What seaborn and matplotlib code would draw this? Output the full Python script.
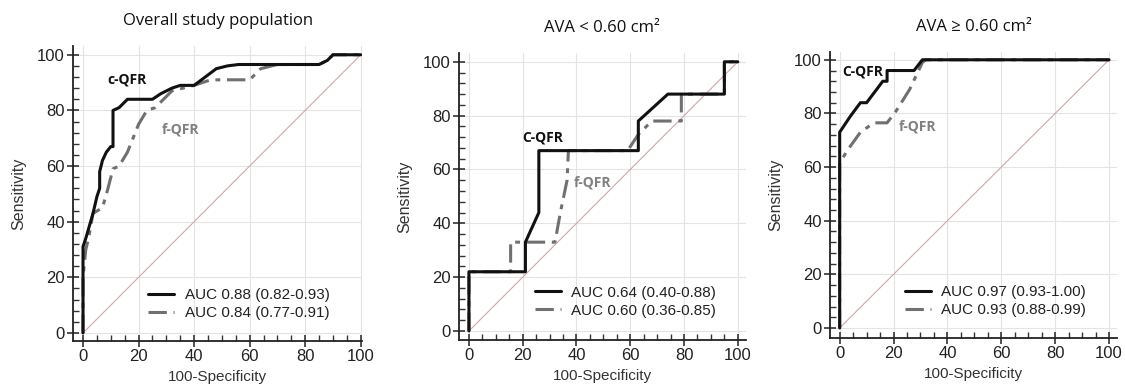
import numpy as np
import pandas as pd
import seaborn as sns
import matplotlib.pyplot as plt
from matplotlib.ticker import MultipleLocator
from matplotlib.lines import Line2D

# ---- data ----
titles = ["Overall study population", "AVA < 0.60 cm\u00b2", "AVA \u2265 0.60 cm\u00b2"]

p1_c_x = [0, 0, 1, 3.6, 5, 6, 6, 7, 8.4, 10, 10.8, 10.8, 13, 16, 25, 28, 32, 35, 40, 44, 48, 52, 56, 85, 88, 90, 100]
p1_c_y = [0, 31, 34, 43, 49, 52, 58, 62, 65, 67, 67, 80, 81, 84, 84, 86, 88, 89, 89, 92, 95, 96, 96.5, 96.5, 98, 100, 100]
p1_f_x = [0, 0, 0.5, 1, 2, 3.6, 7, 9, 10.8, 13, 16, 20, 23, 26, 29, 32, 40, 46, 60, 64, 70, 85, 88, 90, 100]
p1_f_y = [0, 20, 25, 30, 34, 43, 45, 52, 59, 60, 65, 75, 80, 81, 84, 87, 89, 91, 91, 95, 96.5, 96.5, 98, 100, 100]

p2_c_x = [0, 0, 21, 21, 26, 26, 63, 63, 74, 95, 95, 100]
p2_c_y = [0, 22, 22, 33, 44, 67, 67, 78, 88, 88, 100, 100]
p2_f_x = [0, 0, 15.5, 15.5, 32, 34, 36.5, 37, 59, 63, 68, 79, 79, 95, 95, 100]
p2_f_y = [0, 22, 22, 33, 33, 44, 56, 67, 67, 73, 78, 78, 88, 88, 100, 100]

p3_c_x = [0, 0, 4, 7.7, 10, 16, 17.6, 17.6, 27.6, 30.7, 100]
p3_c_y = [0, 73, 79, 84, 84, 92, 92, 96, 96, 100, 100]
p3_f_x = [0, 0, 2.7, 7.7, 12.7, 17.6, 21, 26, 30.7, 32, 100]
p3_f_y = [0, 61.5, 66, 73, 76.5, 76.5, 81, 89, 99, 100, 100]

legend_c = ["AUC 0.88 (0.82-0.93)", "AUC 0.64 (0.40-0.88)", "AUC 0.97 (0.93-1.00)"]
legend_f = ["AUC 0.84 (0.77-0.91)", "AUC 0.60 (0.36-0.85)", "AUC 0.93 (0.88-0.99)"]
c_labels = ["c-QFR", "C-QFR", "C-QFR"]
c_label_pos = [(16, 91), (27.6, 72), (8.5, 95.5)]
f_label_pos = [(35, 73), (46, 55), (29, 75)]

curves = [(p1_c_x, p1_c_y, p1_f_x, p1_f_y),
          (p2_c_x, p2_c_y, p2_f_x, p2_f_y),
          (p3_c_x, p3_c_y, p3_f_x, p3_f_y)]

sns.set_theme(style="white")
plt.rcParams['font.family'] = ['Liberation Sans', 'DejaVu Sans']

fig = plt.figure(figsize=(11.25, 3.92), dpi=100)
positions = [[0.0649, 0.130, 0.257, 0.753],
             [0.408, 0.133, 0.255, 0.732],
             [0.738, 0.138, 0.255, 0.730]]
xlims = [(-3.6, 100.5), (-3.7, 103), (-3.5, 103)]
ylims = [(-2.9, 103.2), (-3.3, 103.3), (-3.7, 103)]
legend_anchor = [(0.935, 0.025), (0.945, 0.03), (0.94, 0.025)]

black = "#111111"
gray = "#707070"
dash_pat = [6, 2.2, 1.6, 2.2]

for i in range(3):
    ax = fig.add_axes(positions[i])
    cx, cy, fx, fy = curves[i]
    df_c = pd.DataFrame({"x": cx, "y": cy})
    df_f = pd.DataFrame({"x": fx, "y": fy})
    df_d = pd.DataFrame({"x": [0, 100], "y": [0, 100]})
    sns.lineplot(data=df_d, x="x", y="y", ax=ax, color="#c9a9aa", lw=0.8,
                 sort=False, estimator=None)
    sns.lineplot(data=df_f, x="x", y="y", ax=ax, color=gray, lw=2.2,
                 sort=False, estimator=None)
    ax.lines[-1].set_dashes(dash_pat)
    sns.lineplot(data=df_c, x="x", y="y", ax=ax, color=black, lw=2.2,
                 sort=False, estimator=None)

    ax.set_xlim(*xlims[i])
    ax.set_ylim(*ylims[i])
    ax.xaxis.set_major_locator(MultipleLocator(20))
    ax.yaxis.set_major_locator(MultipleLocator(20))
    ax.xaxis.set_minor_locator(MultipleLocator(5))
    ax.yaxis.set_minor_locator(MultipleLocator(4))
    ax.grid(True, which="major", color="#e3e3e3", lw=0.8)
    ax.set_axisbelow(True)
    for s in ["top", "right"]:
        ax.spines[s].set_visible(False)
    for s in ["left", "bottom"]:
        ax.spines[s].set_color("#222222")
        ax.spines[s].set_linewidth(1.3)
    ax.tick_params(which="major", direction="inout", length=8, width=1.1, color="#222222",
                   labelsize=12, labelcolor="#222222", left=True, bottom=True, pad=2)
    ax.tick_params(which="minor", direction="in", length=4, width=1.0, color="#333333",
                   left=True, bottom=True)
    ax.set_xlabel("100-Specificity", fontsize=11, color="#333333", labelpad=4)
    ax.set_ylabel("Sensitivity", fontsize=11.5, color="#333333", labelpad=8)
    ax.set_title(titles[i], fontsize=12, family=["Open Sans", "DejaVu Sans"],
                 color="#111111", pad=15)

    ax.text(c_label_pos[i][0], c_label_pos[i][1], c_labels[i], fontsize=10,
            fontweight="bold", family=["Open Sans", "DejaVu Sans"], color="#111111",
            ha="center", va="center")
    ax.text(f_label_pos[i][0], f_label_pos[i][1], "f-QFR", fontsize=10,
            fontweight="bold", family=["Open Sans", "DejaVu Sans"], color="#808080",
            ha="center", va="center")

    h1 = Line2D([], [], color=black, lw=2.2)
    h2 = Line2D([], [], color=gray, lw=2.2, dashes=dash_pat)
    ax.legend([h1, h2], [legend_c[i], legend_f[i]], loc="lower right",
              bbox_to_anchor=legend_anchor[i], frameon=False, fontsize=11,
              handlelength=1.7, handletextpad=0.7, labelspacing=0.25,
              labelcolor="#222222")

fig.savefig("out.png", dpi=100)
